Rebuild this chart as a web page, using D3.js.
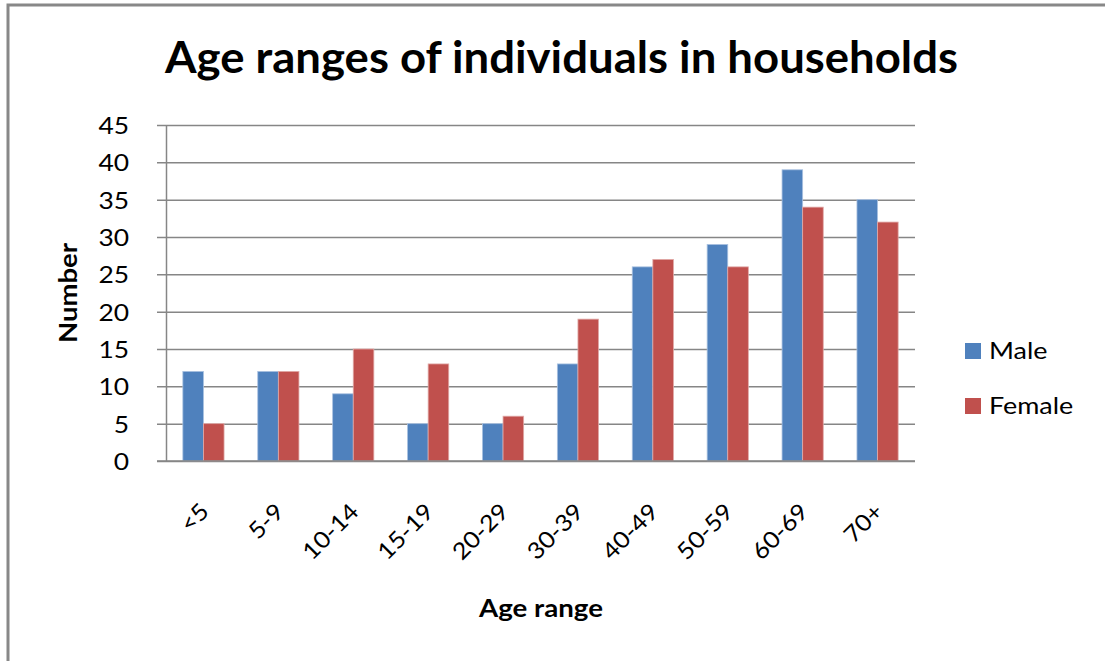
<!DOCTYPE html>
<html>
<head>
<meta charset="utf-8">
<script src="https://cdn.jsdelivr.net/npm/d3@7"></script>
<style>
  html, body { margin: 0; padding: 0; background: #fff; }
  svg { display: block; font-family: Lato, "Open Sans", sans-serif; }
</style>
</head>
<body>
<svg id="chart" width="1105" height="661"></svg>
<script>
// Household members by age range and sex
const categories = ["<5", "5-9", "10-14", "15-19", "20-29", "30-39", "40-49", "50-59", "60-69", "70+"];
const seriesNames = ["Male", "Female"];
const maleValues = [12, 12, 9, 5, 5, 13, 26, 29, 39, 35];
const femaleValues = [5, 12, 15, 13, 6, 19, 27, 26, 34, 32];
const yTicks = [0, 5, 10, 15, 20, 25, 30, 35, 40, 45];
const colors = ["#4F81BD", "#C0504D"];

const rows = categories.map((c, i) => ({ category: c, values: [maleValues[i], femaleValues[i]] }));

const svg = d3.select("#chart");
const plot = { left: 166, right: 915, top: 125, bottom: 461 };
const gridColor = "#868686";

// Outer frame of the chart area
svg.append("rect")
  .attr("x", 8).attr("y", 5)
  .attr("width", 1300).attr("height", 800)
  .attr("fill", "none").attr("stroke", "#888").attr("stroke-width", 3);

// Set a text element's advance to a given width
function fitWidth(textSel, width) {
  textSel.attr("textLength", width).attr("lengthAdjust", "spacingAndGlyphs");
}
// Widen a text element by a factor of its natural advance
function widen(factor) {
  return function () {
    const len = this.getComputedTextLength();
    d3.select(this).attr("textLength", len * factor).attr("lengthAdjust", "spacingAndGlyphs");
  };
}

const x0 = d3.scaleBand()
  .domain(categories)
  .range([plot.left, plot.right])
  .paddingInner(0.45)
  .paddingOuter(0.225);

const x1 = d3.scaleBand()
  .domain(d3.range(seriesNames.length))
  .range([0, x0.bandwidth()]);

const y = d3.scaleLinear()
  .domain([0, 45])
  .range([plot.bottom, plot.top]);

// Y axis with full-width gridlines
const yAxis = svg.append("g")
  .attr("transform", `translate(${plot.left},0)`)
  .call(d3.axisLeft(y).tickValues(yTicks).tickSize(9).tickPadding(28).tickSizeOuter(0));
yAxis.select(".domain").attr("stroke", gridColor).attr("stroke-width", 1.5);
yAxis.selectAll(".tick line")
  .attr("x1", plot.right - plot.left)
  .attr("stroke", gridColor).attr("stroke-width", 1.5);
yAxis.selectAll(".tick text")
  .attr("font-size", 24).attr("fill", "#000")
  .attr("font-family", "Lato, sans-serif")
  .attr("dy", "0.36em")
  .each(widen(1.1));

// Bars
const groups = svg.append("g")
  .selectAll("g")
  .data(rows)
  .join("g")
  .attr("transform", d => `translate(${x0(d.category)},0)`);

groups.selectAll("rect")
  .data(d => d.values.map((v, i) => ({ v, i })))
  .join("rect")
  .attr("x", d => x1(d.i))
  .attr("y", d => y(d.v))
  .attr("width", x1.bandwidth())
  .attr("height", d => y(0) - y(d.v))
  .attr("fill", d => colors[d.i])
  .attr("stroke", d => d.i === 0 ? "#a9c1e0" : "#e0a9a7")
  .attr("stroke-width", 0.8);

// X axis baseline
svg.append("g")
  .attr("transform", `translate(0,${plot.bottom})`)
  .call(d3.axisBottom(x0).tickSize(0).tickSizeOuter(0).tickFormat(""))
  .call(g => g.select(".domain").remove());
svg.append("line")
  .attr("x1", plot.left - 9).attr("x2", plot.right)
  .attr("y1", plot.bottom).attr("y2", plot.bottom)
  .attr("stroke", gridColor).attr("stroke-width", 1.5);

// Rotated category labels
svg.append("g")
  .selectAll("text")
  .data(categories)
  .join("text")
  .attr("transform", d => `translate(${x0(d) + x0.bandwidth() / 2 + 7},${plot.bottom + 52}) rotate(-45)`)
  .attr("text-anchor", "end")
  .attr("font-size", 23)
  .attr("fill", "#000")
  .text(d => d)
  .each(widen(1.1));

// Title
const title = svg.append("text")
  .attr("x", 165).attr("y", 73)
  .attr("font-size", 43).attr("font-weight", "bold").attr("fill", "#000")
  .text("Age ranges of individuals in households");
fitWidth(title, 793);

// Axis titles
const yTitle = svg.append("text")
  .attr("transform", "translate(77,343) rotate(-90)")
  .attr("font-size", 24).attr("font-weight", "bold").attr("fill", "#000")
  .text("Number");
fitWidth(yTitle, 100);

const xTitle = svg.append("text")
  .attr("x", 479).attr("y", 617)
  .attr("font-size", 24).attr("font-weight", "bold").attr("fill", "#000")
  .text("Age range");
fitWidth(xTitle, 124);

// Legend
const legend = svg.append("g")
  .selectAll("g")
  .data(seriesNames)
  .join("g")
  .attr("transform", (d, i) => `translate(965,${343 + i * 55})`);
legend.append("rect")
  .attr("width", 16).attr("height", 16)
  .attr("fill", (d, i) => colors[i]);
legend.append("text")
  .attr("x", 24).attr("y", 16)
  .attr("font-size", 24).attr("fill", "#000")
  .text(d => d)
  .each(widen(1.12));
</script>
</body>
</html>
